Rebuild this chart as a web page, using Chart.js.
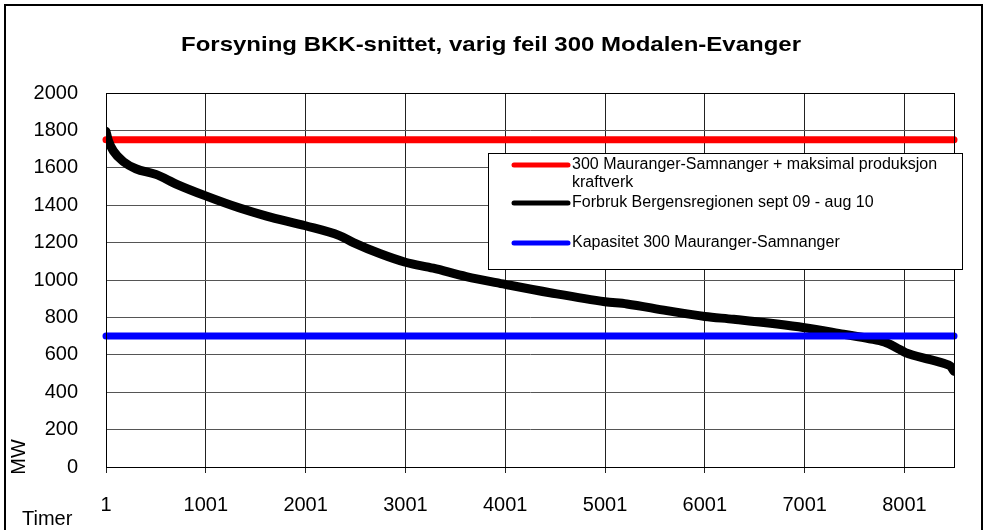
<!DOCTYPE html>
<html lang="no">
<head>
  <meta charset="UTF-8">
  <title>Forsyning BKK-snittet</title>
  <script src="https://cdn.jsdelivr.net/npm/chart.js"></script>
  <style>
    body { margin: 0; background: #fff; }
    #wrap { width: 986px; height: 530px; }
  </style>
</head>
<body>
<div id="wrap"><canvas id="myChart" width="986" height="530"></canvas></div>

<script>
  // duration curve, hours sorted by load
  const hours = [1, 25, 75, 175, 300, 500, 710, 1000, 1340, 1610, 2000, 2340, 2480, 2750, 3000,
    3280, 3610, 4000, 4450, 5000, 5220, 5620, 6000, 6290, 7000, 7390, 7650, 7800, 7920, 8010,
    8260, 8400, 8460, 8497];
  const forbruk = [1795, 1745, 1690, 1633, 1595, 1565, 1512, 1450, 1385, 1342, 1290, 1237, 1200, 1140, 1095,
    1063, 1018, 977, 932, 884, 872, 836, 805, 790, 745, 710, 686, 668, 638, 612,
    574, 553, 540, 512];
  const maksLevel = 1750;
  const kapasitetLevel = 700;
  const xTicks = [1, 1001, 2001, 3001, 4001, 5001, 6001, 7001, 8001];
  const lastHour = 8497;

  const labels = [
    '300 Mauranger-Samnanger + maksimal produksjon kraftverk',
    'Forbruk Bergensregionen sept 09 - aug 10',
    'Kapasitet 300 Mauranger-Samnanger'
  ];

  const forbrukData = hours.map((h, i) => ({ x: h, y: forbruk[i] }));
  const flat = v => [{ x: 1, y: v }, { x: lastHour, y: v }];

  const FONT = 'Arial, "Liberation Sans", sans-serif';

  const decor = {
    id: 'decor',
    beforeDraw(chart) {
      const c = chart.ctx;
      c.save();
      c.fillStyle = '#fff';
      c.fillRect(0, 0, chart.width, chart.height);
      c.strokeStyle = '#000';
      c.lineWidth = 2;
      c.strokeRect(5, 5, 977, 600);
      c.restore();
    },
    afterDraw(chart) {
      const c = chart.ctx;
      const a = chart.chartArea;
      c.save();
      // plot border
      c.strokeStyle = '#000';
      c.lineWidth = 1;
      c.strokeRect(a.left + 0.5, a.top + 0.5, a.right - a.left, a.bottom - a.top);

      // title, stretched a bit wider like the original
      const title = 'Forsyning BKK-snittet, varig feil 300 Modalen-Evanger';
      c.fillStyle = '#000';
      c.font = 'bold 21px ' + FONT;
      c.textAlign = 'center';
      c.textBaseline = 'middle';
      const tw = c.measureText(title).width;
      c.save();
      c.translate(491, 45);
      c.scale(620 / tw, 1);
      c.fillText(title, 0, 0);
      c.restore();

      // axis titles
      c.font = '20px ' + FONT;
      c.textAlign = 'left';
      c.fillText('Timer', 22, 519);
      c.save();
      c.translate(19, 457);
      c.rotate(-Math.PI / 2);
      c.textAlign = 'center';
      c.fillText('MW', 0, 0);
      c.restore();

      // legend box
      c.fillStyle = '#fff';
      c.fillRect(488, 153, 475, 116);
      c.strokeStyle = '#000';
      c.lineWidth = 1;
      c.strokeRect(488.5, 153.5, 474, 116);
      c.font = '16px ' + FONT;
      c.textAlign = 'left';
      c.textBaseline = 'middle';
      const rows = [165, 203, 243];
      chart.data.datasets.forEach((d, i) => {
        const y = rows[i];
        c.strokeStyle = d.borderColor;
        c.lineWidth = 5;
        c.lineCap = 'round';
        c.beginPath();
        c.moveTo(514, y);
        c.lineTo(568, y);
        c.stroke();
        // wrap long labels
        const words = d.label.split(' ');
        let line = '';
        let ly = y;
        c.fillStyle = '#000';
        words.forEach(w => {
          const test = line ? line + ' ' + w : w;
          if (c.measureText(test).width > 375 && line) {
            c.fillText(line, 572, ly);
            line = w;
            ly += 18;
          } else {
            line = test;
          }
        });
        c.fillText(line, 572, ly);
      });
      c.restore();
    }
  };

  const ctx = document.getElementById('myChart').getContext('2d');
  const myChart = new Chart(ctx, {
    type: 'line',
    data: {
      datasets: [
        {
          label: labels[0],
          data: flat(maksLevel),
          borderColor: '#ff0000',
          borderWidth: 7,
          borderCapStyle: 'round',
          pointRadius: 0,
          clip: false,
          order: 3
        },
        {
          label: labels[1],
          data: forbrukData,
          borderColor: '#000000',
          borderWidth: 9,
          borderCapStyle: 'round',
          borderJoinStyle: 'round',
          cubicInterpolationMode: 'monotone',
          pointRadius: 0,
          order: 2
        },
        {
          label: labels[2],
          data: flat(kapasitetLevel),
          borderColor: '#0000ff',
          borderWidth: 7,
          borderCapStyle: 'round',
          pointRadius: 0,
          clip: false,
          order: 1
        }
      ]
    },
    options: {
      responsive: false,
      animation: false,
      layout: { padding: { top: 93, right: 32, left: 0, bottom: 0 } },
      plugins: {
        legend: { display: false },
        title: { display: false },
        tooltip: { enabled: false }
      },
      scales: {
        x: {
          type: 'linear',
          min: 1,
          max: lastHour,
          afterBuildTicks: axis => { axis.ticks = xTicks.map(v => ({ value: v })); },
          afterFit: axis => { axis.height = 63; },
          grid: { color: '#222', lineWidth: 1, drawTicks: true, tickLength: 6, tickColor: '#222' },
          border: { color: '#000', width: 1 },
          ticks: {
            color: '#000',
            font: { family: FONT, size: 20 },
            padding: 20,
            maxRotation: 0,
            autoSkip: false,
            callback: v => String(v)
          }
        },
        y: {
          min: 0,
          max: 2000,
          afterFit: axis => { axis.width = 106; },
          grid: { color: '#555', lineWidth: 1, drawTicks: false },
          border: { color: '#000', width: 1 },
          ticks: {
            stepSize: 200,
            color: '#000',
            font: { family: FONT, size: 20 },
            padding: 28,
            callback: v => String(v)
          }
        }
      }
    },
    plugins: [decor]
  });
</script>
</body>
</html>
